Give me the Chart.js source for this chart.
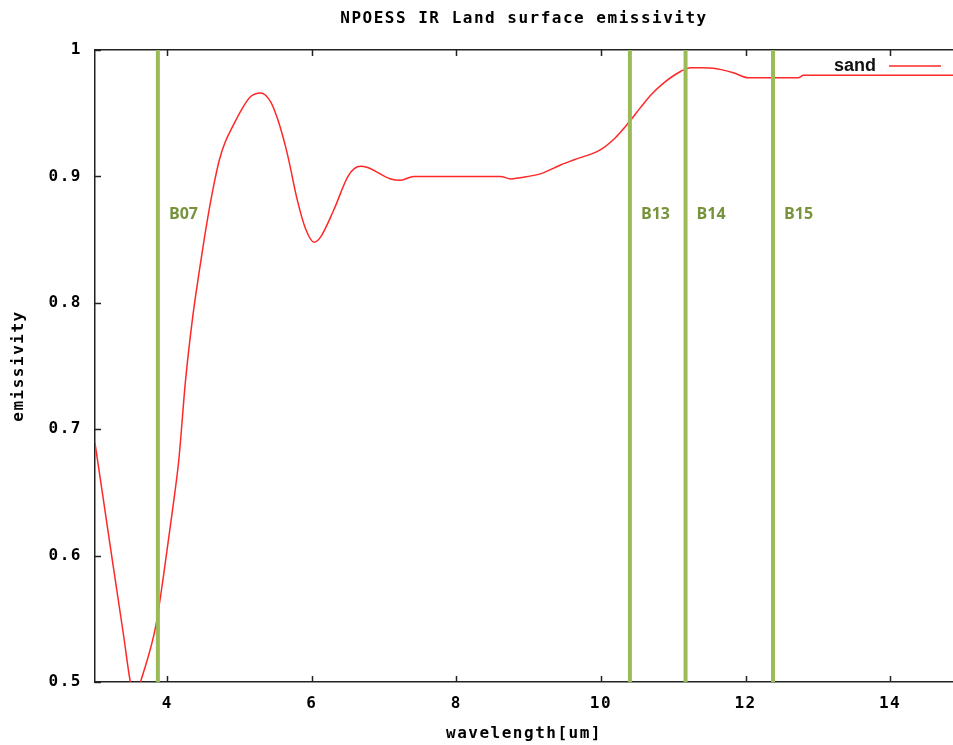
<!DOCTYPE html>
<html><head><meta charset="utf-8">
<script src="https://cdn.jsdelivr.net/npm/chart.js@4.4.0/dist/chart.umd.min.js"></script>
<style>html,body{margin:0;padding:0;background:#fff;overflow:hidden}#wrap{width:953px;height:745px}</style>
</head><body><div id="wrap"><canvas id="c" width="953" height="745"></canvas></div>
<script>
// ---- data ----
const wavelength = [3.00,3.22,3.40,3.49,3.56,3.64,3.84,3.95,4.07,4.16,4.25,4.35,4.44,4.51,4.58,4.65,4.72,4.80,4.90,5.04,5.15,5.29,5.43,5.54,5.66,5.80,5.91,6.03,6.12,6.30,6.51,6.67,6.77,7.09,7.23,7.41,8.61,8.75,8.88,9.16,9.44,9.62,9.99,10.17,10.36,10.54,10.70,10.87,11.10,11.24,11.40,11.56,11.83,12.04,12.73,12.80,15.00];
const emissivity = [0.689,0.604,0.535,0.500,0.488,0.502,0.544,0.585,0.635,0.676,0.737,0.788,0.824,0.850,0.874,0.895,0.913,0.927,0.939,0.954,0.963,0.966,0.959,0.943,0.918,0.881,0.859,0.848,0.852,0.873,0.901,0.908,0.907,0.898,0.897,0.900,0.900,0.898,0.899,0.902,0.909,0.913,0.921,0.929,0.941,0.954,0.965,0.974,0.983,0.986,0.986,0.9855,0.982,0.978,0.978,0.980,0.980];
const seriesName = 'sand';
const xTicks = [4,6,8,10,12,14];
const yTicks = [0.5,0.6,0.7,0.8,0.9,1];
const bandNames = ['B07','B13','B14','B15'];
const bandWavelength = [3.87,10.40,11.17,12.38];
const chartTitle = 'NPOESS IR Land surface emissivity';
const xTitle = 'wavelength[um]';
const yTitle = 'emissivity';

const MONO = '"DejaVu Sans Mono", monospace';
const AXIS = '#222';

const spacing = {
  id: 'spacing',
  beforeLayout(chart){ chart.ctx.letterSpacing = '1.5px'; },
  beforeDraw(chart){ chart.ctx.letterSpacing = '1.5px'; }
};

function seg(ctx,x1,y1,x2,y2){ctx.beginPath();ctx.moveTo(x1,y1);ctx.lineTo(x2,y2);ctx.stroke();}

const bands = {
  id: 'bands',
  afterDatasetsDraw(chart){
    const {ctx, chartArea:a, scales:{x,y}} = chart;
    ctx.save();
    ctx.letterSpacing = '0px';
    bandWavelength.forEach((v,i)=>{
      const px = x.getPixelForValue(v);
      ctx.strokeStyle = '#9bbb59'; ctx.lineWidth = 4;
      seg(ctx, px, a.top, px, a.bottom);
      ctx.fillStyle = '#77933c';
      ctx.font = 'bold 16px "Open Sans", sans-serif';
      ctx.textBaseline = 'middle'; ctx.textAlign = 'left';
      ctx.fillText(bandNames[i], px + 11, y.getPixelForValue(0.87));
    });
    ctx.restore();
  }
};

const decor = {
  id: 'decor',
  afterDraw(chart){
    const {ctx, chartArea:a, scales:{x,y}} = chart;
    ctx.save();
    ctx.letterSpacing = '0px';
    ctx.strokeStyle = AXIS; ctx.lineWidth = 1.5;
    xTicks.forEach(v=>{
      const px = Math.round(x.getPixelForValue(v)) + 0.5;
      seg(ctx, px, a.bottom, px, a.bottom - 6);
      seg(ctx, px, a.top, px, a.top + 6);
    });
    yTicks.forEach(v=>{
      const py = Math.round(y.getPixelForValue(v)) + 0.5;
      seg(ctx, a.left, py, a.left + 6, py);
    });
    // key
    const ky = a.top + 16;
    ctx.fillStyle = '#111';
    ctx.font = 'bold 18px "Liberation Sans", sans-serif';
    ctx.textAlign = 'right'; ctx.textBaseline = 'middle';
    ctx.fillText(seriesName, a.right - 77, ky);
    ctx.strokeStyle = 'rgb(255,40,40)'; ctx.lineWidth = 1.5;
    seg(ctx, a.right - 64, ky, a.right - 12, ky);
    ctx.restore();
  }
};

const pts = wavelength.map((w,i)=>({x:w, y:emissivity[i]}));

new Chart(document.getElementById('c'), {
  type: 'line',
  data: { datasets: [{
    label: seriesName, data: pts,
    borderColor: 'rgb(255,40,40)', borderWidth: 1.5,
    pointRadius: 0, fill: false, cubicInterpolationMode: 'monotone'
  }]},
  options: {
    responsive: false, animation: false, devicePixelRatio: 1,
    layout: { padding: 0 },
    plugins: { legend: {display:false}, tooltip: {enabled:false}, title: {display:false} },
    scales: {
      x: {
        type: 'linear', position: 'bottom', min: 3, max: 14.87,
        afterFit(s){ s.height = 63; },
        afterBuildTicks(s){ s.ticks = xTicks.map(v=>({value:v})); },
        grid: { display: false, drawTicks: false },
        border: { display: true, color: AXIS, width: 1.5 },
        ticks: { color: '#000', padding: 12, font: { family: MONO, size: 16, weight: 'bold' }, maxRotation: 0, autoSkip: false },
        title: { display: true, text: xTitle, color: '#000', padding: {top:0, bottom:2}, font: { family: MONO, size: 16, weight: 'bold' } }
      },
      x2: {
        type: 'linear', position: 'top', min: 3, max: 14.87,
        afterFit(s){ s.height = 50; },
        grid: { display: false, drawTicks: false },
        border: { display: true, color: AXIS, width: 1.5 },
        ticks: { display: false },
        title: { display: true, text: chartTitle, color: '#000', padding: {top:9, bottom:0}, font: { family: MONO, size: 16, weight: 'bold' } }
      },
      y: {
        type: 'linear', position: 'left', min: 0.5, max: 1,
        afterFit(s){ s.width = 95; },
        afterBuildTicks(s){ s.ticks = yTicks.map(v=>({value:v})); },
        grid: { display: false, drawTicks: false },
        border: { display: true, color: AXIS, width: 1.5 },
        ticks: { color: '#000', padding: 13, font: { family: MONO, size: 16, weight: 'bold' },
          callback: v => v === 1 ? '1' : Number(v).toFixed(1) },
        title: { display: true, text: yTitle, color: '#000', padding: {top:9, bottom:0}, font: { family: MONO, size: 16, weight: 'bold' } }
      }
    }
  },
  plugins: [spacing, bands, decor]
});
</script></body></html>
